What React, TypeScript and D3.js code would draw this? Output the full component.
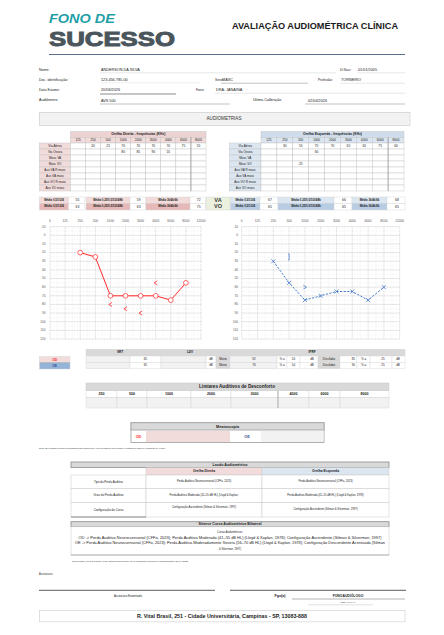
import React from 'react';
import * as d3 from 'd3';

const FONT = "'Liberation Sans', Arial, sans-serif";

// ---------- DATA ----------
const freqs = ['125', '250', '500', '1000', '2000', '3000', '4000', '6000', '8000'];
const chartFreqs = ['0', '125', '250', '500', '1000', '2000', '3000', '4000', '6000', '8000', '12000'];
const yTicks = [-10, 0, 10, 20, 30, 40, 50, 60, 70, 80, 90, 100, 110, 120];

const odVA: (number | null)[] = [null, 20, 25, 70, 70, 70, 70, 75, 55];
const odVO: (number | null)[] = [null, null, null, 80, 85, 90, 55, null, null];
const oeVA: (number | null)[] = [null, 30, 55, 75, 70, 65, 65, 75, 60];
const oeVO: (number | null)[] = [null, null, null, 60, null, null, null, null, null];
const oeMascVO: (number | null)[] = [null, null, 25, null, null, null, null, null, null];
const empty: (number | null)[] = [null, null, null, null, null, null, null, null, null];

const rowLabels = ['Via Aérea', 'Via Óssea', 'Masc VA', 'Masc VO', 'Aus VA R masc', 'Aus VA masc', 'Aus VO R masc', 'Aus VO masc'];

const meanLabels = ['Média 0,5/1/2/4', 'Média 0,25/0,5/1/2/4/8k', 'Média 3k/4k/6k'];
const odMeansVA = [55, 59, 72];
const odMeansVO = [63, 63, 75];
const oeMeansVA = [67, 66, 68];
const oeMeansVO = [65, 65, 65];

const srtValues = [65, 65];
const monoValues = [92, 76];
const monoDb = [20, 50];
const disValues = [85, 90];
const disDb = [25, 25];

const ldFreqs = ['250', '500', '1000', '2000', '3000', '4000', '6000', '8000'];

// ---------- COLORS ----------
const PINK = '#f2dcdb';
const PINK2 = '#e6b8b7';
const BLUE = '#dce6f1';
const BLUE2 = '#b8cce4';
const GRAY = '#d9d9d9';
const LGRAY = '#f2f2f2';
const BORDER = '#bfbfbf';
const RED = '#ff2a2a';
const BLUEL = '#4a7ecb';

function Cell({ x0, x1, y0, y1, fill = '#fff', stroke = BORDER, sw = 0.4 }: any) {
  return <rect x={x0} y={y0} width={x1 - x0} height={y1 - y0} fill={fill} stroke={stroke} strokeWidth={sw} />;
}

function T({ x, y, size = 3.4, anchor = 'middle', weight = 'normal', fill = '#1a1a1a', children, tl }: any) {
  return (
    <text x={x} y={y} fontSize={size} textAnchor={anchor} fontWeight={weight} fill={fill} dominantBaseline="middle"
      textLength={tl} lengthAdjust={tl ? 'spacingAndGlyphs' : undefined}>
      {children}
    </text>
  );
}

function EarTable({ lx0, gx0, gx1, y0, title, hdrFill, lblFill, rows }: any) {
  const colW = (gx1 - gx0) / freqs.length;
  const hY1 = y0 + 5.8;
  const fY1 = hY1 + 5.7;
  const rh = 6;
  return (
    <g>
      <Cell x0={gx0} x1={gx1} y0={y0} y1={hY1} fill={hdrFill} />
      <T x={(gx0 + gx1) / 2} y={(y0 + hY1) / 2} size={3.4} weight="bold">{title}</T>
      {freqs.map((f, i) => (
        <g key={f}>
          <Cell x0={gx0 + i * colW} x1={gx0 + (i + 1) * colW} y0={hY1} y1={fY1} fill={lblFill} />
          <T x={gx0 + (i + 0.5) * colW} y={(hY1 + fY1) / 2} size={3.1}>{f}</T>
        </g>
      ))}
      {rowLabels.map((lab, r) => {
        const ry0 = fY1 + r * rh;
        const vals = rows[r] || empty;
        return (
          <g key={lab}>
            <Cell x0={lx0} x1={gx0} y0={ry0} y1={ry0 + rh} fill={lblFill} />
            <T x={(lx0 + gx0) / 2} y={ry0 + rh / 2} size={3.1}>{lab}</T>
            {freqs.map((f, i) => (
              <g key={f}>
                <Cell x0={gx0 + i * colW} x1={gx0 + (i + 1) * colW} y0={ry0} y1={ry0 + rh} />
                {vals[i] != null && <T x={gx0 + (i + 0.5) * colW} y={ry0 + rh / 2} size={3.3}>{vals[i]}</T>}
              </g>
            ))}
          </g>
        );
      })}
      <line x1={gx0 + 8 * colW} x2={gx0 + 8 * colW} y1={hY1} y2={fY1 + 8 * rh} stroke="#8c8c8c" strokeWidth={0.6} />
    </g>
  );
}

function MeansBlock({ cells, va, vo, fill1, fill2 }: any) {
  const y0 = 197, y1 = 203.3, y2 = 210;
  return (
    <g>
      {cells.map((c: number[], i: number) => (
        <g key={i}>
          <Cell x0={c[0]} x1={c[1]} y0={y0} y1={y1} fill={fill1} stroke="#d0d0d0" />
          <Cell x0={c[0]} x1={c[1]} y0={y1} y1={y2} fill={fill2} stroke="#d0d0d0" />
          <T x={(c[0] + c[1]) / 2} y={(y0 + y1) / 2} size={2.8} weight="bold">{meanLabels[i]}</T>
          <T x={(c[0] + c[1]) / 2} y={(y1 + y2) / 2} size={2.8} weight="bold">{meanLabels[i]}</T>
          <Cell x0={c[1]} x1={c[2]} y0={y0} y1={y1} fill="#fff" stroke="#d0d0d0" />
          <Cell x0={c[1]} x1={c[2]} y0={y1} y1={y2} fill="#fff" stroke="#d0d0d0" />
          <T x={(c[1] + c[2]) / 2 + 1} y={(y0 + y1) / 2} size={3.4}>{va[i]}</T>
          <T x={(c[1] + c[2]) / 2 + 1} y={(y1 + y2) / 2} size={3.4}>{vo[i]}</T>
        </g>
      ))}
    </g>
  );
}

function Audiogram({ x0, x1, labelX, va, vo, masc, ear }: any) {
  const x = d3.scalePoint<string>().domain(chartFreqs).range([x0, x1]);
  const y = d3.scaleLinear().domain([-10, 120]).range([226.7, 339]);
  const step = x.step();
  const pts = freqs.map((f, i) => ({ f, v: va[i] })).filter(d => d.v != null);
  const line = d3.line<any>().x(d => x(d.f) as number).y(d => y(d.v));
  const color = ear === 'od' ? RED : BLUEL;
  return (
    <g>
      {yTicks.slice(0, -1).map(t => (
        <line key={'m' + t} x1={x0} x2={x1} y1={y(t + 5)} y2={y(t + 5)} stroke="#e3e3e3" strokeWidth={0.4} strokeDasharray="0.8,0.8" />
      ))}
      {chartFreqs.slice(0, -1).map(f => (
        <line key={'v' + f} x1={(x(f) as number) + step / 2} x2={(x(f) as number) + step / 2} y1={y(-10)} y2={y(120)} stroke="#e3e3e3" strokeWidth={0.4} strokeDasharray="0.8,0.8" />
      ))}
      {chartFreqs.map(f => (
        <line key={'V' + f} x1={x(f)} x2={x(f)} y1={y(-10)} y2={y(120)} stroke="#b3b3b3" strokeWidth={0.45} strokeDasharray="0.9,0.6" />
      ))}
      {yTicks.map(t => (
        <line key={'H' + t} x1={x0} x2={x1} y1={y(t)} y2={y(t)} stroke="#a0a0a0" strokeWidth={0.45} strokeDasharray="0.9,0.6" />
      ))}
      {yTicks.map(t => (
        <T key={'yl' + t} x={labelX} y={y(t)} size={3.2} anchor="end" fill="#595959">{t}</T>
      ))}
      {chartFreqs.map(f => (
        <T key={'xl' + f} x={x(f)} y={221.6} size={3.2} fill="#595959">{f}</T>
      ))}
      <path d={line(pts) || ''} fill="none" stroke={color} strokeWidth={1} strokeDasharray={ear === 'od' ? undefined : '2.2,1.4'} />
      {pts.map(d => {
        const cx = x(d.f) as number, cy = y(d.v as number);
        return ear === 'od'
          ? <circle key={d.f} cx={cx} cy={cy} r={2.4} fill="#fff" stroke={color} strokeWidth={0.7} />
          : <path key={d.f} d={`M${cx - 2},${cy - 2}L${cx + 2},${cy + 2}M${cx - 2},${cy + 2}L${cx + 2},${cy - 2}`} stroke={color} strokeWidth={0.8} />;
      })}
      {freqs.map((f, i) => {
        const v = vo[i];
        if (v == null) return null;
        const cx = x(f) as number, cy = y(v);
        return ear === 'od'
          ? <path key={'vo' + f} d={`M${cx + 1.6},${cy - 2}L${cx - 1.6},${cy}L${cx + 1.6},${cy + 2}`} fill="none" stroke={color} strokeWidth={0.8} />
          : <path key={'vo' + f} d={`M${cx - 1.6},${cy - 2}L${cx + 1.6},${cy}L${cx - 1.6},${cy + 2}`} fill="none" stroke={color} strokeWidth={0.8} />;
      })}
      {masc && freqs.map((f, i) => {
        const v = masc[i];
        if (v == null) return null;
        const cx = x(f) as number, cy = y(v);
        return <path key={'m' + f} d={`M${cx - 1},${cy - 3}L${cx},${cy - 3}L${cx},${cy + 3}L${cx - 1},${cy + 3}`} fill="none" stroke={color} strokeWidth={0.8} />;
      })}
    </g>
  );
}

export default function App() {
  const srtCells = (r: number) => {
    const y0 = r === 0 ? 356 : 362.4;
    const y1 = y0 + 6.4;
    const c = (a: number, b: number, fill: string, txt?: any, anchor = 'middle', tx?: number) => (
      <g>
        <Cell x0={a} x1={b} y0={y0} y1={y1} fill={fill} stroke="#d5d5d5" />
        {txt != null && <T x={tx ?? (a + b) / 2} y={(y0 + y1) / 2} size={3} anchor={anchor}>{txt}</T>}
      </g>
    );
    return (
      <g key={r}>
        {c(86, 130, LGRAY)}
        {c(130, 161, '#fff', srtValues[r], 'end', 147)}
        {c(161, 206, LGRAY)}
        {c(206, 216, '#fff', 'dB')}
        {c(216, 230, GRAY, 'Mono')}
        {c(230, 277, LGRAY, monoValues[r], 'middle', 254)}
        {c(277, 287, '#fff', '% a')}
        {c(287, 300, '#fff', monoDb[r])}
        {c(300, 318, '#fff', 'dB', 'middle', 312)}
        {c(318, 340, GRAY, 'Dissílabo')}
        {c(340, 357, '#fff', disValues[r], 'end', 355)}
        {c(357, 370, '#fff', '% a')}
        {c(370, 392, '#fff', disDb[r], 'middle', 383)}
        {c(392, 405, '#fff', 'dB', 'middle', 398)}
      </g>
    );
  };

  const ldBounds = [86, 117, 147, 191, 231, 278, 309, 340, 389];

  return (
    <svg width={444} height={635} style={{ position: 'absolute', left: 0, top: 0, background: '#fff' }} fontFamily={FONT}>
      {/* Logo */}
      <text x={49} y={23} fontSize={13.5} fontWeight="bold" fontStyle="italic" fill="#1f9fa6" textLength={66} lengthAdjust="spacingAndGlyphs">FONO DE</text>
      <text x={49} y={45.5} fontSize={21} fontWeight={900} fill="#4b565c" textLength={126} lengthAdjust="spacingAndGlyphs" stroke="#4b565c" strokeWidth={1}>SUCESSO</text>
      <text x={232} y={28.5} fontSize={9.5} fontWeight="bold" fill="#1a1a1a" textLength={166} lengthAdjust="spacingAndGlyphs">AVALIAÇÃO AUDIOMÉTRICA CLÍNICA</text>
      <line x1={49} x2={405} y1={54.5} y2={54.5} stroke="#5a6f8e" strokeWidth={1} />

      {/* Patient info */}
      <T x={39} y={70} size={3.6} anchor="start">Nome:</T>
      <T x={101} y={70} size={3.8} anchor="start">ANDERSON DA SILVA</T>
      <line x1={100} x2={336} y1={72.8} y2={72.8} stroke="#d6d6d6" strokeWidth={0.6} />
      <T x={340} y={70} size={3} anchor="start">Dt Nasc:</T>
      <T x={358} y={70} size={3.8} anchor="start">01/01/2005</T>
      <line x1={357} x2={405} y1={72.8} y2={72.8} stroke="#d6d6d6" strokeWidth={0.6} />

      <T x={39} y={80} size={3.6} anchor="start">Doc. identificação:</T>
      <T x={101} y={80} size={3.8} anchor="start">123.456.785-00</T>
      <line x1={100} x2={200} y1={82.8} y2={82.8} stroke="#e4e4e4" strokeWidth={0.6} />
      <T x={215} y={80} size={3.3} anchor="start">Sexo:</T>
      <T x={222} y={80} size={3.8} anchor="start">MASC</T>
      <line x1={221} x2={308} y1={83.2} y2={83.2} stroke="#9a9a9a" strokeWidth={0.6} />
      <T x={318} y={80} size={3.3} anchor="start">Profissão:</T>
      <T x={341} y={80} size={3.8} anchor="start">TORNEIRO</T>
      <line x1={340} x2={405} y1={83.2} y2={83.2} stroke="#d6d6d6" strokeWidth={0.6} />

      <T x={39} y={90} size={3.6} anchor="start">Data Exame:</T>
      <T x={101} y={90} size={3.8} anchor="start">20/06/2026</T>
      <line x1={100} x2={176} y1={94} y2={94} stroke="#b3b3b3" strokeWidth={1.3} />
      <T x={196} y={90} size={3.3} anchor="start">Fono:</T>
      <T x={216} y={90} size={3.8} anchor="start">DRA. JANAINA</T>
      <line x1={215} x2={405} y1={93.2} y2={93.2} stroke="#d6d6d6" strokeWidth={0.6} />

      <T x={39} y={100.5} size={3.6} anchor="start">Audiômetro</T>
      <T x={101} y={100.5} size={3.8} anchor="start">AVS 500</T>
      <line x1={100} x2={230} y1={104} y2={104} stroke="#9a9a9a" strokeWidth={0.6} />
      <T x={253} y={100.5} size={3.6} anchor="start">Ultima Calibração</T>
      <T x={308} y={100.5} size={3.8} anchor="start">02/04/2026</T>
      <line x1={305} x2={405} y1={104} y2={104} stroke="#9a9a9a" strokeWidth={0.6} />

      {/* Audiometrias title */}
      <Cell x0={39.5} x1={410} y0={112.3} y1={125.5} fill={LGRAY} stroke="#c8c8c8" sw={0.6} />
      <T x={224} y={119} size={4.6} fill="#333">AUDIOMETRIAS</T>

      {/* Ear tables */}
      <EarTable lx0={39.5} gx0={70.5} gx1={206} y0={131.5} title="Orelha Direita - frequências (KHz)" hdrFill="#ecd2d1" lblFill={PINK}
        rows={[odVA, odVO, empty, empty, empty, empty, empty, empty]} />
      <EarTable lx0={229.5} gx0={261} gx1={404} y0={131.5} title="Orelha Esquerda - frequências (KHz)" hdrFill="#cfdcec" lblFill={BLUE}
        rows={[oeVA, oeVO, empty, oeMascVO, empty, empty, empty, empty]} />

      {/* Means */}
      <MeansBlock cells={[[39.5, 68.5, 84.5], [86, 130, 145.5], [146, 190, 205.5]]} va={odMeansVA} vo={odMeansVO} fill1={PINK} fill2={PINK2} />
      <Cell x0={206} x1={230} y0={197} y1={210} fill="#ebf1de" stroke="#d0d0d0" />
      <T x={218} y={200.3} size={5.6} weight="bold" fill="#3a3a3a">VA</T>
      <T x={218} y={207} size={5.6} weight="bold" fill="#3a3a3a">VO</T>
      <MeansBlock cells={[[230.5, 260, 278], [278, 334, 352], [352, 387, 405]]} va={oeMeansVA} vo={oeMeansVO} fill1={BLUE} fill2={BLUE2} />

      {/* Audiograms */}
      <Audiogram x0={50} x1={201} labelX={45.5} va={odVA} vo={odVO} ear="od" />
      <Audiogram x0={241.7} x1={399.7} labelX={238} va={oeVA} vo={oeVO} masc={oeMascVO} ear="oe" />

      {/* SRT / LDV / IPRF */}
      <Cell x0={86} x1={405} y0={349.3} y1={355.8} fill={GRAY} stroke="#d0d0d0" />
      <T x={120} y={352.6} size={3.1} weight="bold">SRT</T>
      <T x={190} y={352.6} size={3.1} weight="bold">LDV</T>
      <T x={312} y={352.6} size={3.1} weight="bold">IPRF</T>
      {srtCells(0)}
      {srtCells(1)}
      <Cell x0={39.5} x1={70} y0={356.6} y1={362.8} fill={PINK} stroke="#d0d0d0" />
      <T x={54.7} y={359.8} size={3.4} weight="bold" fill={RED}>OD</T>
      <line x1={39.5} x2={70} y1={362.6} y2={362.6} stroke="#888" strokeWidth={0.6} />
      <Cell x0={39.5} x1={70} y0={362.8} y1={369} fill="#95b3d7" stroke="#d0d0d0" />
      <T x={54.7} y={366} size={3.4} weight="bold" fill="#2f5597">OE</T>

      {/* Limiares Auditivos de Desconforto */}
      <Cell x0={86} x1={389} y0={383} y1={390.8} fill={GRAY} stroke="#c0c0c0" />
      <T x={237} y={387} size={4.6} weight="bold" fill="#222">Limiares Auditivos de Desconforto</T>
      {ldFreqs.map((f, i) => (
        <g key={f}>
          <Cell x0={ldBounds[i]} x1={ldBounds[i + 1]} y0={390.8} y1={397.8} fill="#fff" stroke="#d0d0d0" />
          <T x={(ldBounds[i] + ldBounds[i + 1]) / 2} y={394.4} size={3.6} weight="bold">{f}</T>
          <Cell x0={ldBounds[i]} x1={ldBounds[i + 1]} y0={397.8} y1={408} fill={LGRAY} stroke="#d0d0d0" />
        </g>
      ))}
      <line x1={278} x2={278} y1={390.8} y2={408} stroke="#8c8c8c" strokeWidth={0.6} />

      {/* Meatoscopia */}
      <Cell x0={131} x1={324} y0={422.7} y1={442.5} fill="#fff" stroke="#a6a6a6" sw={0.9} />
      <Cell x0={131} x1={324} y0={422.7} y1={430} fill={GRAY} stroke="#a6a6a6" sw={0.9} />
      <T x={227.5} y={426.5} size={3.8} weight="bold" fill="#222">Meatoscopia</T>
      <rect x={146} y={431} width={84} height={11} fill={PINK} />
      <rect x={261} y={431} width={62.5} height={11} fill={LGRAY} />
      <T x={138.5} y={436.7} size={3.8} weight="bold" fill={RED}>OD</T>
      <T x={247} y={436.7} size={3.8} weight="bold" fill="#2f5597">OE</T>

      <T x={39} y={448.5} size={2.2} anchor="start" fill="#333">Nota: Os resultados acima demonstrados são subjetivos e representativos da condição verificada na data de realização do exame.</T>

      {/* Laudo Audiométrico */}
      <Cell x0={71} x1={389} y0={462} y1={467.6} fill={GRAY} stroke="#8c8c8c" sw={0.8} />
      <T x={230} y={465} size={3.6} weight="bold" fill="#222">Laudo Audiométrico</T>
      <Cell x0={146} x1={262} y0={467.6} y1={475} fill={PINK} stroke="#c8c8c8" />
      <Cell x0={262} x1={389} y0={467.6} y1={475} fill={BLUE} stroke="#c8c8c8" />
      <T x={204} y={471.5} size={3.4} weight="bold" fill="#222">Orelha Direita</T>
      <T x={325.5} y={471.5} size={3.4} weight="bold" fill="#222">Orelha Esquerda</T>
      {[
        [475, 488.5, 'Tipo da Perda Auditiva', 'Perda Auditiva Neurossensorial (CFFa, 2023)', 'Perda Auditiva Neurossensorial (CFFa, 2023)'],
        [488.5, 502.5, 'Grau da Perda Auditiva', 'Perda Auditiva Moderada (41–55 dB HL) (Lloyd & Kaplan,', 'Perda Auditiva Moderada (41–55 dB HL) (Lloyd & Kaplan, 1978)'],
        [502.5, 517, 'Configuração da Curva', 'Configuração Ascendente (Silman & Silverman, 1997)', 'Configuração Ascendente (Silman & Silverman, 1997)'],
      ].map((r: any, i) => (
        <g key={i}>
          <Cell x0={71} x1={146} y0={r[0]} y1={r[1]} stroke="#c8c8c8" sw={0.5} />
          <Cell x0={146} x1={262} y0={r[0]} y1={r[1]} stroke="#c8c8c8" sw={0.5} />
          <Cell x0={262} x1={389} y0={r[0]} y1={r[1]} stroke="#c8c8c8" sw={0.5} />
          <T x={108.5} y={(r[0] + r[1]) / 2 + (i === 2 ? 0.8 : 0)} size={2.9}>{r[2]}</T>
          <T x={204} y={(r[0] + r[1]) / 2 - (i === 2 ? 2.2 : 0)} size={2.7}>{r[3]}</T>
          <T x={325.5} y={(r[0] + r[1]) / 2} size={2.7}>{r[4]}</T>
        </g>
      ))}
      <line x1={71} x2={146} y1={517} y2={517} stroke="#444" strokeWidth={0.6} />

      {/* Síntese */}
      <Cell x0={71} x1={389} y0={521.7} y1={526.8} fill={GRAY} stroke="#8c8c8c" sw={0.8} />
      <T x={230} y={524.4} size={3.6} weight="bold" fill="#222">Síntese Curva Audiométrica Bilateral</T>
      <Cell x0={71} x1={389} y0={526.8} y1={555} fill="#fff" stroke="#c8c8c8" sw={0.5} />
      <line x1={71} x2={389} y1={555} y2={555} stroke="#888" strokeWidth={0.6} />
      <T x={230} y={532.8} size={2.6}>Curvas Audiométricas:</T>
      <T x={230} y={538.2} size={2.6} tl={303}>OD -&gt; Perda Auditiva Neurossensorial (CFFa, 2023); Perda Auditiva Moderada (41–55 dB HL) (Lloyd &amp; Kaplan, 1978); Configuração Ascendente (Silman &amp; Silverman, 1997)</T>
      <T x={230} y={543.6} size={2.6} tl={310}>OE -&gt; Perda Auditiva Neurossensorial (CFFa, 2023); Perda Auditiva Moderadamente Severa (56–70 dB HL) (Lloyd &amp; Kaplan, 1978); Configuração Descendente Acentuada (Silman</T>
      <T x={230} y={549} size={2.6}>&amp; Silverman, 1997)</T>

      <T x={72} y={561.7} size={2.3} anchor="start" fill="#333">Referências: Lloyd &amp; Kaplan, 1978; Silman &amp; Silverman, 1997; Conselho Federal de Fonoaudiologia (CFFa, 2023).</T>

      <T x={39} y={574.2} size={2.6} anchor="start" fill="#333">Assinaturas:</T>

      {/* Signatures */}
      <line x1={39} x2={215} y1={590.3} y2={590.3} stroke="#333" strokeWidth={0.8} />
      <line x1={230} x2={406} y1={590.3} y2={590.3} stroke="#333" strokeWidth={0.8} />
      <T x={128} y={596.7} size={2.8}>Assinatura Examinado</T>
      <T x={280} y={596.4} size={3.6} weight="bold">Fgo(a)</T>
      <line x1={292} x2={405} y1={599} y2={599} stroke="#666" strokeWidth={0.5} />
      <T x={348} y={596} size={3.4} weight="bold">FONOAUDIÓLOGO</T>
      <T x={348} y={602} size={2.3}>CRFA/XXXXX</T>
      <line x1={308} x2={373} y1={604.8} y2={604.8} stroke="#e0e0e0" strokeWidth={1} />

      {/* Footer */}
      <Cell x0={39.5} x1={405} y0={610.5} y1={621.8} fill="#fff" stroke="#d9d9d9" sw={0.8} />
      <T x={222} y={616.2} size={5} weight="bold" fill="#222" tl={170}>R. Vital Brasil, 251 - Cidade Universitária, Campinas - SP, 13083-888</T>
    </svg>
  );
}
